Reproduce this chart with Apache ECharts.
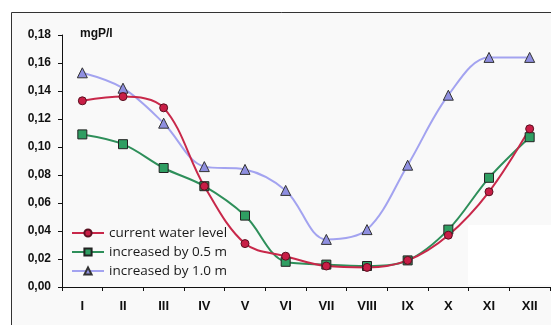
<!DOCTYPE html>
<html><head><meta charset="utf-8">
<script src="https://cdn.jsdelivr.net/npm/echarts@6/dist/echarts.min.js"></script>
<style>html,body{margin:0;padding:0;background:#fff}#c{width:551px;height:325px}</style>
</head><body><div id="c"></div>
<script>
const months = ['I','II','III','IV','V','VI','VII','VIII','IX','X','XI','XII'];
const currentLevel = [0.133, 0.136, 0.128, 0.072, 0.031, 0.022, 0.015, 0.014, 0.019, 0.037, 0.068, 0.113];
const plus05 = [0.109, 0.102, 0.085, 0.072, 0.051, 0.018, 0.016, 0.015, 0.019, 0.041, 0.078, 0.107];
const plus10 = [0.153, 0.142, 0.117, 0.086, 0.084, 0.069, 0.034, 0.041, 0.087, 0.137, 0.164, 0.164];
const yTicks = [0, 0.02, 0.04, 0.06, 0.08, 0.10, 0.12, 0.14, 0.16, 0.18];

const chart = echarts.init(document.getElementById('c'), null, {renderer:'canvas'});
const lbl = {fontFamily:'Arial, Liberation Sans', fontWeight:'bold', fontSize:12, color:'#111'};
chart.setOption({
  animation:false,
  backgroundColor:'#fff',
  graphic:[
    {type:'rect', z:-10, shape:{x:11.5,y:12.5,width:560,height:330}, style:{fill:'#f9f9f9', stroke:'#333', lineWidth:1}},
    {type:'rect', z:-9, shape:{x:468,y:225,width:83,height:60}, style:{fill:'#ffffff'}},
    {type:'text', left:80, top:28, style:{text:'mgP/l', font:'bold 12px Arial', fill:'#111'}}
  ],
  grid:{left:62, right:1, top:35, bottom:38},
  legend:{
    orient:'vertical', left:66, top:221, itemGap:5, itemWidth:32, itemHeight:9,
    textStyle:{fontFamily:'Open Sans', fontSize:13.5, color:'#1a1a1a', fontWeight:500},
    data:['current water level','increased by 0.5 m','increased by 1.0 m']
  },
  xAxis:{
    type:'category', data:months, boundaryGap:true,
    axisLine:{lineStyle:{color:'#111', width:1}},
    axisTick:{show:true, length:4, lineStyle:{color:'#111'}},
    axisLabel:Object.assign({}, lbl, {fontSize:13, margin:13})
  },
  yAxis:{
    type:'value', min:0, max:0.18, interval:0.02,
    splitLine:{show:false},
    axisLine:{show:true, lineStyle:{color:'#111'}},
    axisTick:{show:true, length:4, lineStyle:{color:'#111'}},
    axisLabel:Object.assign({margin:11, formatter:v=>v.toFixed(2).replace('.',',')}, lbl)
  },
  series:[
    {name:'increased by 1.0 m', type:'line', data:plus10, smooth:0.35, symbol:'triangle', symbolSize:10,
     lineStyle:{color:'#a3a3f0', width:2}, itemStyle:{color:'#8f8fe0', borderColor:'#333', borderWidth:1}},
    {name:'increased by 0.5 m', type:'line', data:plus05, smooth:0.35, symbol:'rect', symbolSize:9,
     lineStyle:{color:'#2e8f5a', width:2}, itemStyle:{color:'#2f9e62', borderColor:'#222', borderWidth:1}},
    {name:'current water level', type:'line', data:currentLevel, smooth:0.35, symbol:'circle', symbolSize:8,
     lineStyle:{color:'#c8284a', width:2}, itemStyle:{color:'#c81e46', borderColor:'#5a1020', borderWidth:1}}
  ]
});
</script></body></html>
